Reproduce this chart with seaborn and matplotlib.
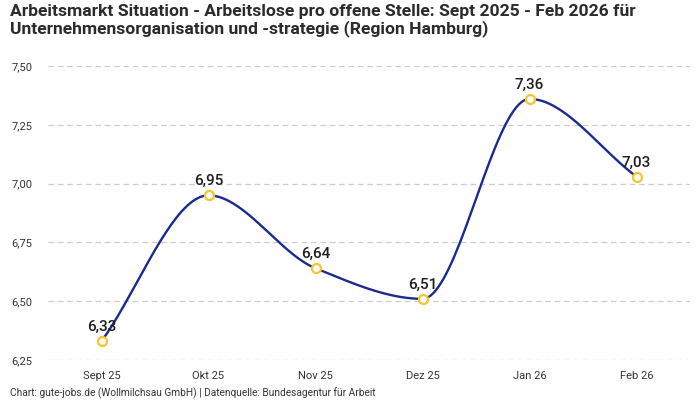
import numpy as np
import pandas as pd
import matplotlib
matplotlib.use("Agg")
import matplotlib.pyplot as plt
import seaborn as sns

categories = ["Sept 25", "Okt 25", "Nov 25", "Dez 25", "Jan 26", "Feb 26"]
values = [6.33, 6.95, 6.64, 6.51, 7.36, 7.03]
value_labels = ["6,33", "6,95", "6,64", "6,51", "7,36", "7,03"]
y_ticks = [6.25, 6.50, 6.75, 7.00, 7.25, 7.50]
y_tick_labels = ["6,25", "6,50", "6,75", "7,00", "7,25", "7,50"]
title = "Arbeitsmarkt Situation - Arbeitslose pro offene Stelle: Sept 2025 - Feb 2026 für\nUnternehmensorganisation und -strategie (Region Hamburg)"
footer = "Chart: gute-jobs.de (Wollmilchsau GmbH) | Datenquelle: Bundesagentur für Arbeit"

sns.set_theme(style="white")
plt.rcParams["font.family"] = ["Roboto", "DejaVu Sans"]

LINE = "#1b2a8f"
MARK = "#f7c52b"

def monotone_curve(x, y, n=40):
    x = np.asarray(x, float); y = np.asarray(y, float)
    h = np.diff(x); d = np.diff(y) / h
    m = np.zeros_like(y)
    m[0] = d[0]; m[-1] = d[-1]
    for i in range(1, len(y) - 1):
        if d[i - 1] * d[i] <= 0:
            m[i] = 0
        else:
            w1 = 2 * h[i] + h[i - 1]; w2 = h[i] + 2 * h[i - 1]
            m[i] = (w1 + w2) / (w1 / d[i - 1] + w2 / d[i])
    xs, ys = [], []
    for i in range(len(x) - 1):
        t = np.linspace(0, 1, n, endpoint=(i == len(x) - 2))
        h00 = 2*t**3 - 3*t**2 + 1; h10 = t**3 - 2*t**2 + t
        h01 = -2*t**3 + 3*t**2; h11 = t**3 - t**2
        xs.append(x[i] + t * h[i])
        ys.append(h00*y[i] + h10*h[i]*m[i] + h01*y[i+1] + h11*h[i]*m[i+1])
    return np.concatenate(xs), np.concatenate(ys)

pos = np.arange(len(categories))
cx, cy = monotone_curve(pos, values)
curve = pd.DataFrame({"x": cx, "y": cy})
pts = pd.DataFrame({"x": pos, "y": values})

fig = plt.figure(figsize=(7, 4), dpi=100)
ax = fig.add_axes([48/700, 1 - 360/400, (690-48)/700, (360-66)/400])

for t in y_ticks:
    ax.axhline(t, color="#cccccc", lw=0.9, ls=(0, (4.5, 3)), zorder=0)

sns.lineplot(data=curve, x="x", y="y", ax=ax, color=LINE, lw=1.7, sort=False, zorder=2)
sns.scatterplot(data=pts, x="x", y="y", ax=ax, s=42, color="white",
                edgecolor=MARK, linewidth=1.6, zorder=3)

for xp, v, lab in zip(pos, values, value_labels):
    ax.annotate(lab, (xp, v), xytext=(0, 5), textcoords="offset points",
                ha="center", va="bottom", fontsize=11, color="#1e1e1e", fontweight="medium")

ax.set_xlim(-0.5, len(categories) - 0.5)
ax.set_ylim(6.25, 7.5)
ax.set_xticks(pos)
ax.set_xticklabels(categories, fontsize=8, color="#333333")
ax.set_yticks(y_ticks)
ax.set_yticklabels(y_tick_labels, fontsize=8, color="#333333")
ax.tick_params(axis="x", length=0, pad=8)
ax.tick_params(axis="y", length=0, pad=11)
ax.set_xlabel(""); ax.set_ylabel("")
for s in ax.spines.values():
    s.set_visible(False)

fig.text(10/700, 1 - 4/400, title, ha="left", va="top", fontsize=12.6,
         fontweight="bold", color="#2b2b2b", linespacing=1.08)
fig.text(10/700, 1 - 393/400, footer, ha="left", va="center", fontsize=7.3, color="#333333")

fig.savefig("out.png", dpi=100)
